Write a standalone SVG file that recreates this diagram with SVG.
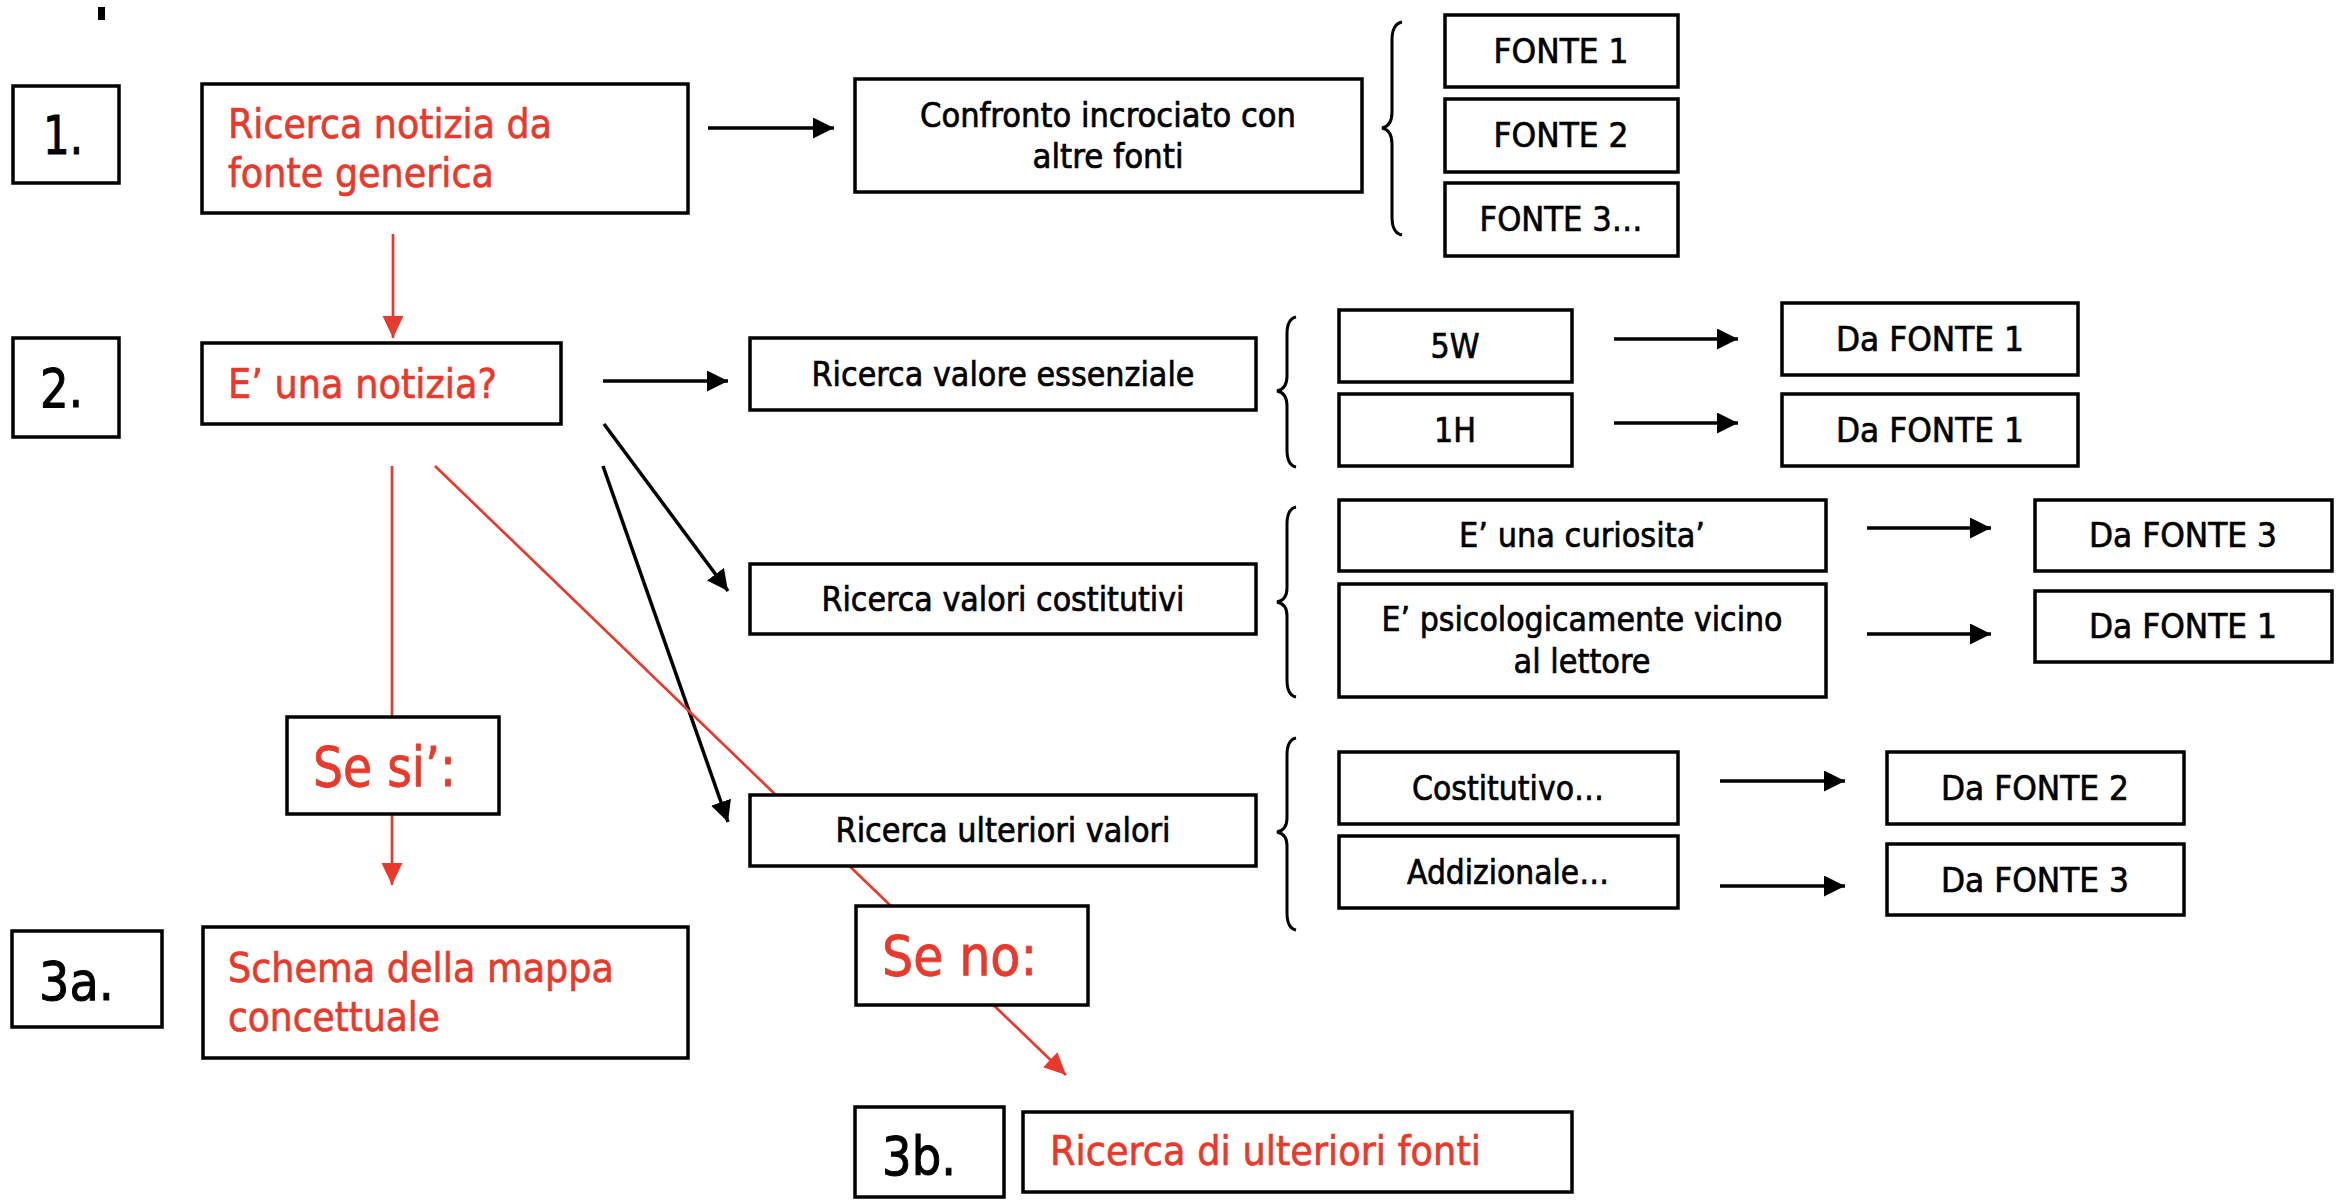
<svg xmlns="http://www.w3.org/2000/svg" width="2344" height="1200" viewBox="0 0 2344 1200">
<style>
  .box { fill: #ffffff; stroke: #000000; stroke-width: 3.5; }
  .t { font-family: "DejaVu Sans", Verdana, sans-serif; font-size: 33px; fill: #000000; stroke: #000000; stroke-width: 0.7; text-anchor: middle; }
  .red { font-family: "DejaVu Sans", Verdana, sans-serif; font-size: 41px; fill: #E83A2C; stroke: #E83A2C; stroke-width: 0.7; }
  .big { font-family: "DejaVu Sans", Verdana, sans-serif; font-size: 56px; fill: #E83A2C; stroke: #E83A2C; stroke-width: 0.9; }
  .num { font-family: "DejaVu Sans", Verdana, sans-serif; font-size: 53px; fill: #000000; stroke: #000000; stroke-width: 1; }
  .blk { stroke: #000000; stroke-width: 3.5; fill: none; }
  .rl { stroke: #E83A2C; stroke-width: 2.7; fill: none; }
  .brace { stroke: #000000; stroke-width: 3; fill: none; }
</style>
<defs>
  <marker id="ab" markerUnits="userSpaceOnUse" markerWidth="21" markerHeight="21" refX="21" refY="10.5" orient="auto">
    <path d="M0,0 L21,10.5 L0,21 z" fill="#000000"/>
  </marker>
  <marker id="ar" markerUnits="userSpaceOnUse" markerWidth="22" markerHeight="22" refX="22" refY="11" orient="auto">
    <path d="M0,0.5 L22,11 L0,21.5 z" fill="#E83A2C"/>
  </marker>
</defs>
<rect x="98" y="7" width="7" height="13" fill="#000000"/>
<g id="connectors">
  <line class="rl" x1="393" y1="234" x2="393" y2="338" marker-end="url(#ar)"/>
  <line class="rl" x1="392" y1="466" x2="392" y2="717"/>
  <line class="rl" x1="392" y1="815" x2="392" y2="885" marker-end="url(#ar)"/>
  <line class="blk" x1="708" y1="128" x2="834" y2="128" marker-end="url(#ab)"/>
  <line class="blk" x1="603" y1="381" x2="728" y2="381" marker-end="url(#ab)"/>
  <line class="blk" x1="604" y1="424" x2="728" y2="591" marker-end="url(#ab)"/>
  <line class="blk" x1="603" y1="466" x2="728" y2="822" marker-end="url(#ab)"/>
  <line class="rl" x1="435" y1="466" x2="1066" y2="1075" marker-end="url(#ar)"/>
  <line class="blk" x1="1614" y1="339" x2="1738" y2="339" marker-end="url(#ab)"/>
  <line class="blk" x1="1614" y1="423" x2="1738" y2="423" marker-end="url(#ab)"/>
  <line class="blk" x1="1867" y1="528" x2="1991" y2="528" marker-end="url(#ab)"/>
  <line class="blk" x1="1867" y1="634" x2="1991" y2="634" marker-end="url(#ab)"/>
  <line class="blk" x1="1720" y1="781" x2="1845" y2="781" marker-end="url(#ab)"/>
  <line class="blk" x1="1720" y1="886" x2="1845" y2="886" marker-end="url(#ab)"/>
  <path class="brace" d="M1402,22 Q1392,24 1392,40 L1392,112 Q1392,126 1382,128 Q1392,130 1392,144 L1392,217 Q1392,233 1402,235"/>
  <path class="brace" d="M1296,317 Q1287,319 1287,334 L1287,376 Q1287,389 1277,391 Q1287,393 1287,406 L1287,450 Q1287,465 1296,467"/>
  <path class="brace" d="M1296,507 Q1287,509 1287,524 L1287,588 Q1287,600 1277,602 Q1287,604 1287,616 L1287,680 Q1287,695 1296,697"/>
  <path class="brace" d="M1296,738 Q1287,740 1287,755 L1287,818 Q1287,830 1277,832 Q1287,834 1287,846 L1287,913 Q1287,928 1296,930"/>
</g>
<g id="n1"><rect class="box" x="13" y="86" width="106" height="97"/><text class="num" x="43" y="154" textLength="40" lengthAdjust="spacingAndGlyphs">1.</text></g>
<g id="notizia"><rect class="box" x="202" y="84" width="486" height="129"/>
  <text class="red" x="228" y="138" textLength="324" lengthAdjust="spacingAndGlyphs">Ricerca notizia da</text>
  <text class="red" x="228" y="187" textLength="266" lengthAdjust="spacingAndGlyphs">fonte generica</text></g>
<g id="confronto"><rect class="box" x="855" y="79" width="507" height="113"/>
  <text class="t" x="1108" y="127" textLength="376" lengthAdjust="spacingAndGlyphs">Confronto incrociato con</text>
  <text class="t" x="1108" y="168" textLength="151" lengthAdjust="spacingAndGlyphs">altre fonti</text></g>
<g id="fonte1"><rect class="box" x="1445" y="15" width="233" height="72"/><text class="t" x="1561" y="63" textLength="135" lengthAdjust="spacingAndGlyphs">FONTE 1</text></g>
<g id="fonte2"><rect class="box" x="1445" y="99" width="233" height="73"/><text class="t" x="1561" y="147" textLength="135" lengthAdjust="spacingAndGlyphs">FONTE 2</text></g>
<g id="fonte3"><rect class="box" x="1445" y="183" width="233" height="73"/><text class="t" x="1561" y="231" textLength="163" lengthAdjust="spacingAndGlyphs">FONTE 3…</text></g>
<g id="n2"><rect class="box" x="13" y="338" width="106" height="99"/><text class="num" x="40" y="407" textLength="43" lengthAdjust="spacingAndGlyphs">2.</text></g>
<g id="enotizia"><rect class="box" x="202" y="343" width="359" height="81"/><text class="red" x="228" y="398" textLength="269" lengthAdjust="spacingAndGlyphs">E’ una notizia?</text></g>
<g id="essenziale"><rect class="box" x="750" y="338" width="506" height="72"/><text class="t" x="1003" y="386" textLength="383" lengthAdjust="spacingAndGlyphs">Ricerca valore essenziale</text></g>
<g id="w5"><rect class="box" x="1339" y="310" width="233" height="72"/><text class="t" x="1455" y="358" textLength="49" lengthAdjust="spacingAndGlyphs">5W</text></g>
<g id="h1"><rect class="box" x="1339" y="394" width="233" height="72"/><text class="t" x="1455" y="442" textLength="42" lengthAdjust="spacingAndGlyphs">1H</text></g>
<g id="daf1a"><rect class="box" x="1782" y="303" width="296" height="72"/><text class="t" x="1930" y="351" textLength="188" lengthAdjust="spacingAndGlyphs">Da FONTE 1</text></g>
<g id="daf1b"><rect class="box" x="1782" y="394" width="296" height="72"/><text class="t" x="1930" y="442" textLength="188" lengthAdjust="spacingAndGlyphs">Da FONTE 1</text></g>
<g id="costitutivi"><rect class="box" x="750" y="564" width="506" height="70"/><text class="t" x="1003" y="611" textLength="363" lengthAdjust="spacingAndGlyphs">Ricerca valori costitutivi</text></g>
<g id="curiosita"><rect class="box" x="1339" y="500" width="487" height="71"/><text class="t" x="1582" y="547" textLength="246" lengthAdjust="spacingAndGlyphs">E’ una curiosita’</text></g>
<g id="psico"><rect class="box" x="1339" y="584" width="487" height="113"/>
  <text class="t" x="1582" y="631" textLength="401" lengthAdjust="spacingAndGlyphs">E’ psicologicamente vicino</text>
  <text class="t" x="1582" y="673" textLength="137" lengthAdjust="spacingAndGlyphs">al lettore</text></g>
<g id="daf3a"><rect class="box" x="2035" y="500" width="297" height="71"/><text class="t" x="2183" y="547" textLength="188" lengthAdjust="spacingAndGlyphs">Da FONTE 3</text></g>
<g id="daf1c"><rect class="box" x="2035" y="591" width="297" height="71"/><text class="t" x="2183" y="638" textLength="188" lengthAdjust="spacingAndGlyphs">Da FONTE 1</text></g>
<g id="ulteriori"><rect class="box" x="750" y="795" width="506" height="71"/><text class="t" x="1003" y="842" textLength="335" lengthAdjust="spacingAndGlyphs">Ricerca ulteriori valori</text></g>
<g id="costitutivo"><rect class="box" x="1339" y="752" width="339" height="72"/><text class="t" x="1508" y="800" textLength="192" lengthAdjust="spacingAndGlyphs">Costitutivo…</text></g>
<g id="addizionale"><rect class="box" x="1339" y="836" width="339" height="72"/><text class="t" x="1508" y="884" textLength="202" lengthAdjust="spacingAndGlyphs">Addizionale…</text></g>
<g id="daf2"><rect class="box" x="1887" y="752" width="297" height="72"/><text class="t" x="2035" y="800" textLength="188" lengthAdjust="spacingAndGlyphs">Da FONTE 2</text></g>
<g id="daf3b"><rect class="box" x="1887" y="844" width="297" height="71"/><text class="t" x="2035" y="892" textLength="188" lengthAdjust="spacingAndGlyphs">Da FONTE 3</text></g>
<g id="sesi"><rect class="box" x="287" y="717" width="212" height="97"/><text class="big" x="313" y="786" textLength="143" lengthAdjust="spacingAndGlyphs">Se si’:</text></g>
<g id="seno"><rect class="box" x="856" y="906" width="232" height="99"/><text class="big" x="882" y="975" textLength="155" lengthAdjust="spacingAndGlyphs">Se no:</text></g>
<g id="n3a"><rect class="box" x="12" y="931" width="150" height="96"/><text class="num" x="39" y="1000" textLength="75" lengthAdjust="spacingAndGlyphs">3a.</text></g>
<g id="schema"><rect class="box" x="203" y="927" width="485" height="131"/>
  <text class="red" x="228" y="982" textLength="386" lengthAdjust="spacingAndGlyphs">Schema della mappa</text>
  <text class="red" x="228" y="1031" textLength="212" lengthAdjust="spacingAndGlyphs">concettuale</text></g>
<g id="n3b"><rect class="box" x="855" y="1107" width="149" height="90"/><text class="num" x="882" y="1175" textLength="74" lengthAdjust="spacingAndGlyphs">3b.</text></g>
<g id="fonti"><rect class="box" x="1023" y="1112" width="549" height="80"/><text class="red" x="1050" y="1165" textLength="431" lengthAdjust="spacingAndGlyphs">Ricerca di ulteriori fonti</text></g>
</svg>
